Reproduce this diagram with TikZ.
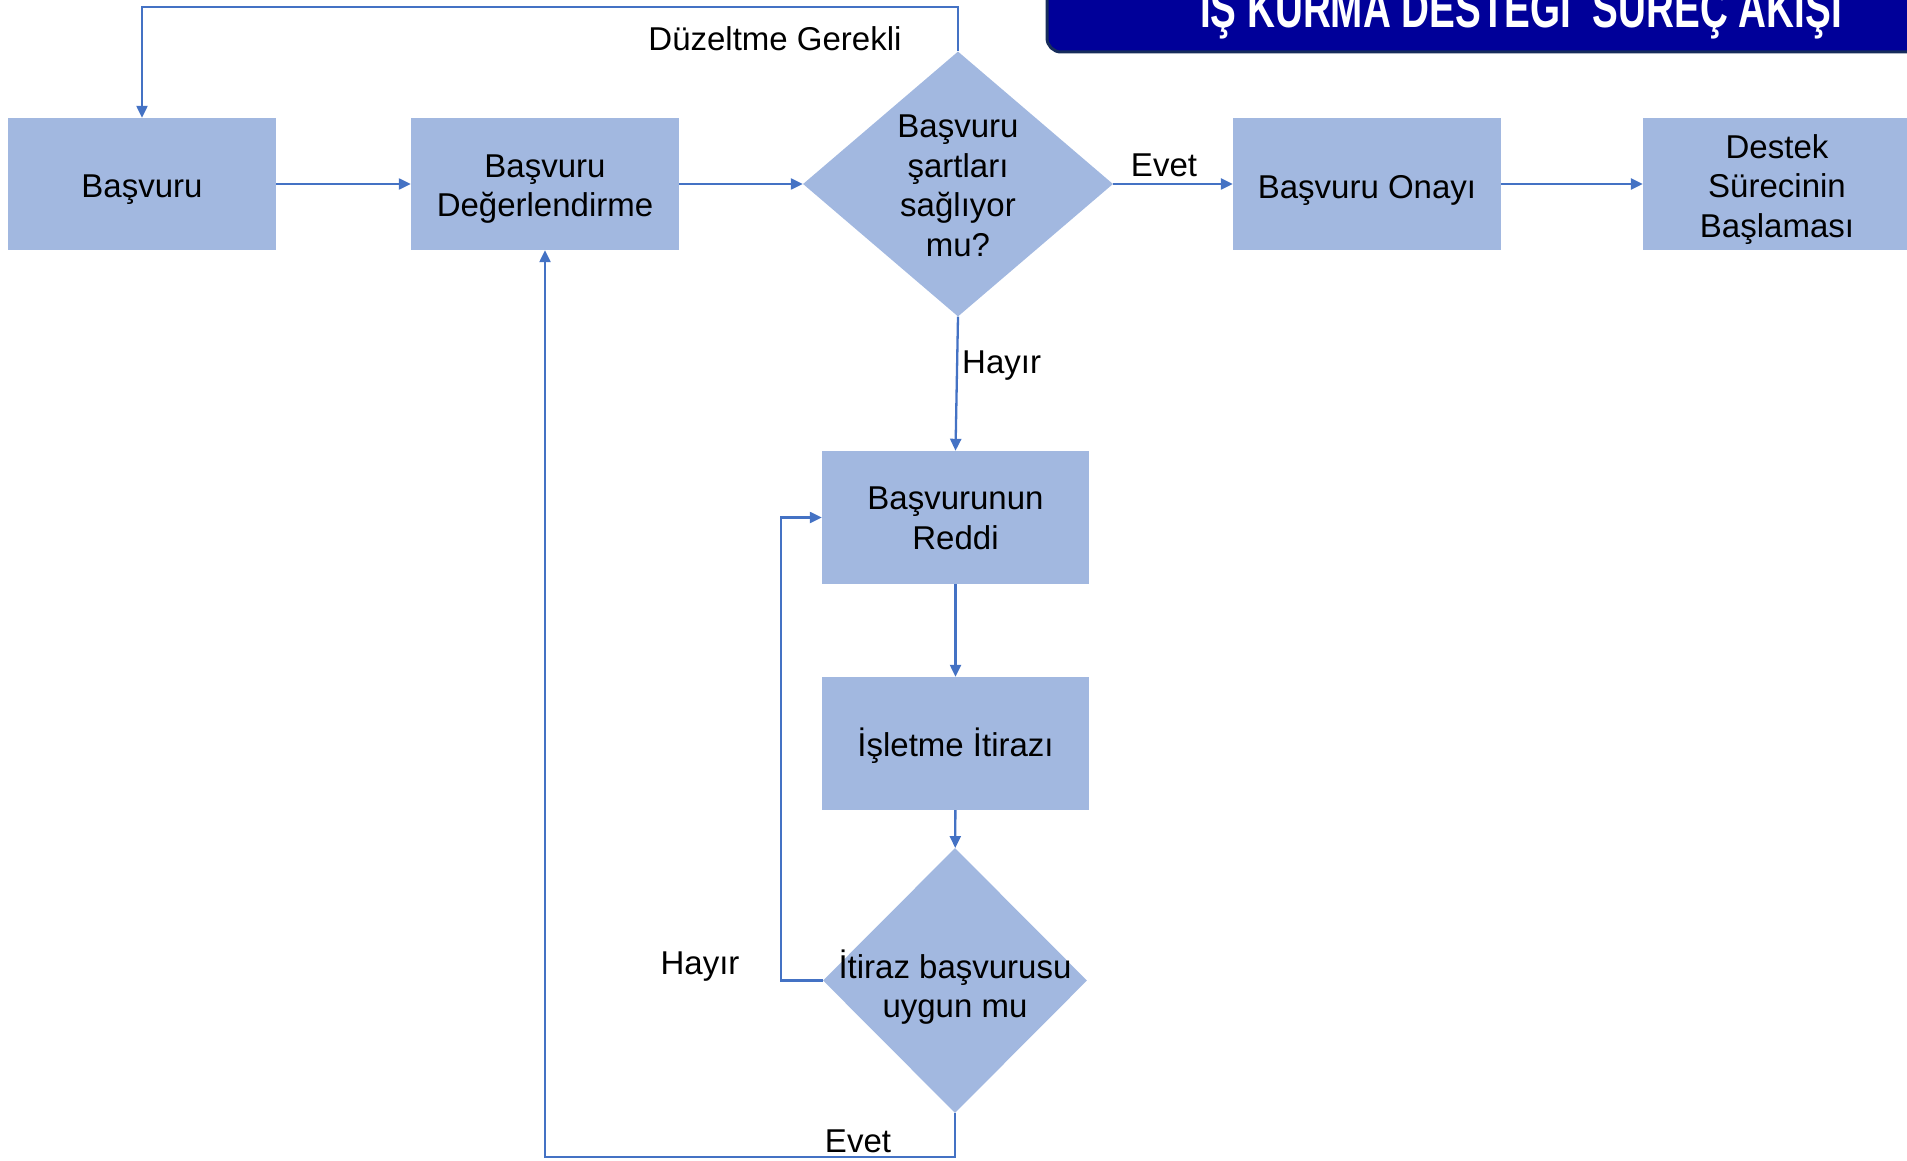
\documentclass[tikz,border=0pt]{standalone}
\usepackage{graphicx}
\usepackage{fontspec}
\setmainfont{Liberation Sans}
\usetikzlibrary{shapes.geometric,arrows.meta,calc}
\definecolor{boxfill}{RGB}{162,184,224}
\definecolor{linec}{RGB}{68,114,196}
\definecolor{bannerfill}{RGB}{0,0,153}
\definecolor{bannerline}{RGB}{22,44,92}
\newcommand{\ctext}[2]{\raisebox{#1}[\height][\depth]{\begin{tabular}{@{}c@{}}#2\end{tabular}}}
\begin{document}
\begin{tikzpicture}[x=1pt,y=-1pt,
  every node/.style={font=\fontsize{33}{39.5}\selectfont, text=black},
  proc/.style={rectangle, fill=boxfill, minimum width=268pt, minimum height=132pt, inner sep=0pt, align=center},
  decide/.style={diamond, fill=boxfill, inner sep=0pt, aspect=1},
  conn/.style={draw=linec, line width=2.3pt, -{Triangle[length=12pt,width=11pt]}},
  lbl/.style={inner sep=0pt}]
\useasboundingbox (0,0) rectangle (1907,1161);

% banner
\begin{scope}
\clip (0,0) rectangle (1907,1161);
\draw[fill=bannerfill, draw=bannerline, line width=3pt, rounded corners=14pt] (1047,-40) rectangle (1950,52);
\node[anchor=base, text=white, font=\fontsize{56}{60}\selectfont\bfseries, inner sep=0pt] (title) at (1521,28) {\scalebox{0.69}[1]{İŞ KURMA DESTEĞİ\ \ SÜREÇ AKIŞI}};
\end{scope}

% nodes
\node[proc] (b1) at (142,184) {\ctext{-6pt}{Başvuru}};
\node[proc] (b2) at (545,184) {\ctext{-5pt}{Başvuru\\Değerlendirme}};
\node[decide, minimum width=310pt, minimum height=265pt] (d1) at (958,184)
  {\makebox[0pt]{\ctext{-5pt}{Başvuru\\şartları\\sağlıyor\\mu?}}};
\node[proc] (b3) at (1367,184) {\ctext{-7pt}{Başvuru Onayı}};
\node[proc] (b4) at (1777,184) {\ctext{-6pt}{Destek\\Sürecinin\\Başlaması}};
\node[proc, minimum width=267pt, minimum height=133pt] (r) at (955.5,517.5) {\ctext{-4pt}{Başvurunun\\Reddi}};
\node[proc, minimum width=267pt, minimum height=133pt] (i) at (955.5,743.5) {\ctext{-5pt}{İşletme İtirazı}};
\node[decide, minimum width=264pt, minimum height=265pt] (d2) at (955,980.5)
  {\makebox[0pt]{\ctext{-9pt}{İtiraz başvurusu\\uygun mu}}};

% connectors
\draw[conn] (b1) -- (b2);
\draw[conn] (b2) -- (d1);
\draw[conn] (d1) -- (b3);
\draw[conn] (b3) -- (b4);
\coordinate (topy) at (0,7);
\draw[conn] (d1.north) -- (d1.north |- topy) -| (b1.north);
\draw[conn] (d1.south) -- (r.north);
\draw[conn] (r) -- (i);
\draw[conn] (i) -- (d2);
\coordinate (lx) at (781,0);
\draw[conn] (d2.west) -- (d2.west -| lx) |- (r.west);
\coordinate (boty) at (0,1157);
\draw[conn] (d2.south) -- (d2.south |- boty) -| (b2.south);

% labels
\node[lbl] (lfix) at (775,39) {Düzeltme Gerekli};
\node[lbl] (lyes1) at (1164,165) {Evet};
\node[lbl, anchor=west] (lno1) at (962,366) {Hayır};
\node[lbl] (lno2) at (700,967) {Hayır};
\node[lbl] (lyes2) at (858,1141) {Evet};
\end{tikzpicture}
\end{document}
